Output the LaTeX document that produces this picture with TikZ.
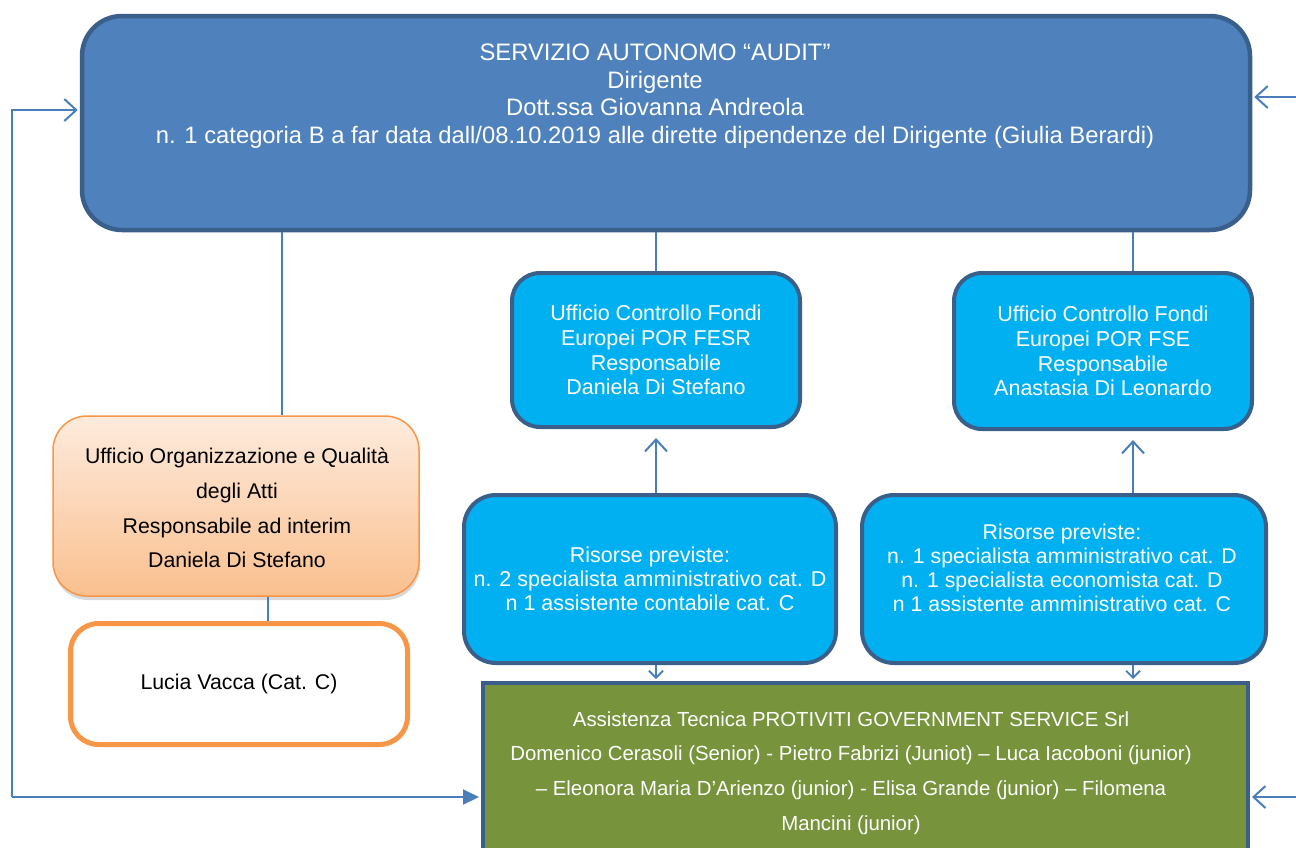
\documentclass[tikz,border=0pt]{standalone}
\usepackage{fontspec}
\setmainfont{Liberation Sans}
\usetikzlibrary{arrows.meta,shadows}
\definecolor{topfill}{HTML}{4F81BD}
\definecolor{darkborder}{HTML}{3A5F8B}
\definecolor{cyanfill}{HTML}{00B0F0}
\definecolor{greenfill}{HTML}{77933C}
\definecolor{orgborder}{HTML}{F79646}
\definecolor{orgtop}{HTML}{FDEBDD}
\definecolor{orgbot}{HTML}{FAC08F}
\definecolor{lineblue}{HTML}{4A7EBB}
\tikzset{
  conn/.style={draw=lineblue, line width=2pt},
  barb/.style={-{Straight Barb[length=12pt,width=22pt,line width=2pt]}},
  smallbarb/.style={-{Straight Barb[length=7pt,width=14pt,line width=1.8pt]}},
  tri/.style={-{Triangle[length=16pt,width=15pt]}},
  bluebox/.style={draw=darkborder, line width=4pt, fill=cyanfill, rounded corners=28pt, text=white, align=center, inner sep=0pt},
  txt/.style={align=center, inner sep=0pt},
}
\begin{document}
\begin{tikzpicture}[x=1pt,y=-1pt]
\useasboundingbox (0,0) rectangle (1296,847);
\clip (0,0) rectangle (1296,847);
% coordinates for connector columns
\coordinate (c1) at (282,0);
\coordinate (c2) at (268,0);
\coordinate (c3) at (656,0);
\coordinate (c4) at (1133,0);
\coordinate (ly) at (0,110);
\coordinate (lb) at (12,797);
\coordinate (r1) at (1296,97);
\coordinate (r2) at (1296,797);

% top box
\node[draw=darkborder, line width=4.5pt, fill=topfill, rounded corners=40pt,
      minimum width=1168pt, minimum height=214pt] (top) at (666,123) {};
\node[txt, text=white, font=\fontsize{23.8}{27.6}\selectfont] (toptxt) at (655,96)
  {SERVIZIO AUTONOMO “AUDIT”\\Dirigente\\Dott.ssa Giovanna Andreola\\n. 1 categoria B a far data dall/08.10.2019 alle dirette dipendenze del Dirigente (Giulia Berardi)};

% office boxes
\node[bluebox, minimum width=288pt, minimum height=154pt, font=\fontsize{21.5}{24.7}\selectfont] (fesr) at (656,350)
  {Ufficio Controllo Fondi\\Europei POR FESR\\Responsabile\\Daniela Di Stefano};
\node[bluebox, minimum width=298pt, minimum height=156pt, font=\fontsize{21.5}{24.7}\selectfont] (fse) at (1103,351)
  {Ufficio Controllo Fondi\\Europei POR FSE\\Responsabile\\Anastasia Di Leonardo};

% resources boxes
\node[bluebox, rounded corners=32pt, minimum width=372pt, minimum height=168pt, font=\fontsize{21.5}{24.2}\selectfont] (res1) at (650,579)
  {Risorse previste:\\n. 2 specialista amministrativo cat. D\\n 1 assistente contabile cat. C};
\node[bluebox, rounded corners=32pt, minimum width=404pt, minimum height=168pt] (res2) at (1064,579) {};
\node[txt, text=white, font=\fontsize{21.3}{24.2}\selectfont] (res2txt) at (1062,568)
  {Risorse previste:\\n. 1 specialista amministrativo cat. D\\n. 1 specialista economista cat. D\\n 1 assistente amministrativo cat. C};

% orange box
\node[draw=orgborder, line width=1.5pt, top color=orgtop, bottom color=orgbot, rounded corners=34pt,
      minimum width=366pt, minimum height=180pt,
      drop shadow={opacity=0.3, shadow xshift=1pt, shadow yshift=-4pt}] (org) at (236,506) {};
\node[txt, font=\fontsize{21.3}{34.8}\selectfont] (orgtxt) at (237,508)
  {Ufficio Organizzazione e Qualità\\degli Atti\\Responsabile ad interim\\Daniela Di Stefano};

% Lucia box
\node[draw=orgborder, line width=5pt, fill=white, rounded corners=28pt,
      minimum width=337pt, minimum height=121pt, align=center, inner sep=0pt,
      font=\fontsize{21.3}{24}\selectfont] (luc) at (239,684)
  {Lucia Vacca (Cat. C)};

% green box
\node[draw=darkborder, line width=4pt, fill=greenfill, minimum width=765pt, minimum height=180pt] (gr) at (865.5,773) {};
\node[txt, text=white, font=\fontsize{20.4}{34.6}\selectfont] (grtxt) at (851,773)
  {Assistenza Tecnica PROTIVITI GOVERNMENT SERVICE Srl\\Domenico Cerasoli (Senior) - Pietro Fabrizi (Juniot) – Luca Iacoboni (junior)\\– Eleonora Maria D’Arienzo (junior) - Elisa Grande (junior) – Filomena\\Mancini (junior)};

% connectors
\draw[conn] (top.south -| c1) -- (org.north -| c1);
\draw[conn] (org.south -| c2) -- (luc.north -| c2);
\draw[conn] (top.south -| c3) -- (fesr.north -| c3);
\draw[conn] (top.south -| c4) -- (fse.north -| c4);
\draw[conn, barb, shorten >=9pt] (res1.north -| c3) -- (fesr.south -| c3);
\draw[conn, barb, shorten >=9pt] (res2.north -| c4) -- (fse.south -| c4);
\draw[conn, smallbarb, shorten >=2pt] (res1.south -| c3) -- (gr.north -| c3);
\draw[conn, smallbarb, shorten >=2pt] (res2.south -| c4) -- (gr.north -| c4);
\draw[conn, barb, shorten >=2pt] (lb) |- (top.west |- ly);
\draw[conn, tri, shorten >=2pt] (lb) -- (gr.west |- lb);
\draw[conn, barb, shorten >=2pt] (r1) -- (top.east |- r1);
\draw[conn, barb, shorten >=2pt] (r2) -- (gr.east |- r2);
\end{tikzpicture}
\end{document}
